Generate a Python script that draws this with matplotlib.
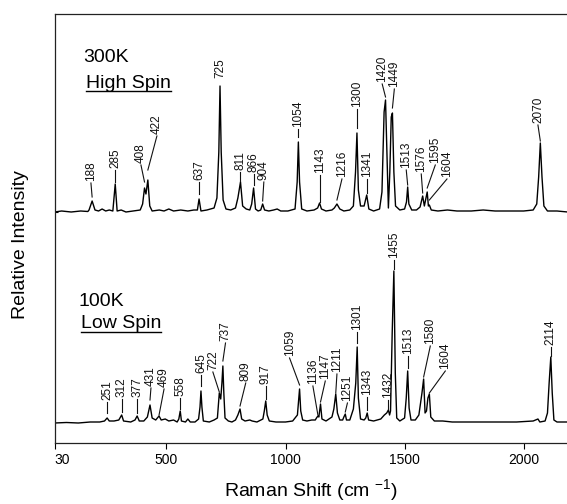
import numpy as np
import matplotlib
matplotlib.use("Agg")
import matplotlib.pyplot as plt
from matplotlib.lines import Line2D

plt.rcParams['font.family'] = ['Liberation Sans', 'DejaVu Sans']
plt.rcParams['mathtext.default'] = 'regular'

# 300K high spin spectrum (Raman shift cm-1, relative intensity)
hs_shift = [30, 60, 100, 140, 170, 175, 188, 200, 215, 230, 245, 260, 275, 285, 293,
            310, 330, 360, 390, 400, 408, 414, 422, 430, 440, 470, 490, 510, 530, 560,
            590, 615, 630, 637, 645, 670, 700, 712, 720, 725, 730, 738, 750, 770, 790,
            800, 811, 820, 835, 850, 858, 866, 874, 885, 896, 904, 912, 930, 950, 965,
            980, 1010, 1040, 1049, 1054, 1059, 1068, 1090, 1120, 1135, 1143, 1151, 1170, 1195, 1205,
            1216, 1228, 1245, 1270, 1285, 1294, 1300, 1306, 1315, 1330, 1341, 1350, 1370, 1395, 1405,
            1414, 1420, 1426, 1432, 1438, 1444, 1449, 1455, 1462, 1480, 1500, 1508, 1513, 1518, 1530,
            1550, 1565, 1570, 1576, 1583, 1590, 1595, 1600, 1604, 1612, 1640, 1680, 1720, 1780, 1830,
            1880, 1940, 2000, 2040, 2055, 2063, 2070, 2077, 2085, 2100, 2140, 2185]
hs_intensity = [0, 1, 0, 1, 0.5, 2, 11, 2, 1, 3, 1, 2, 1, 28, 1,
                2, 0, 1, 2, 8, 24, 18, 32, 6, 1, 2, 1, 3, 1, 2,
                1, 2, 2, 13, 1, 2, 4, 14, 60, 126, 60, 12, 3, 2, 4,
                14, 30, 6, 3, 2, 8, 24, 3, 1, 2, 8, 2, 1, 2, 3,
                1, 1, 3, 30, 70, 30, 3, 1, 2, 4, 9, 3, 1, 2, 4,
                8, 3, 1, 2, 6, 40, 79, 22, 6, 6, 17, 3, 1, 3, 20,
                100, 112, 60, 4, 40, 95, 99, 40, 6, 2, 3, 10, 25, 8, 2,
                2, 5, 10, 16, 6, 14, 20, 6, 7, 2, 1, 2, 1, 1, 2,
                1, 1, 1, 2, 8, 35, 69, 35, 6, 1, 1, 0]

# 100K low spin spectrum
ls_shift = [30, 80, 130, 180, 220, 240, 251, 260, 280, 300, 312, 320, 350, 368, 377,
            386, 405, 420, 431, 440, 455, 462, 469, 478, 495, 510, 530, 545, 552, 558,
            563, 580, 590, 600, 620, 635, 641, 645, 649, 655, 680, 700, 714, 719, 722,
            728, 733, 737, 741, 746, 760, 775, 790, 800, 809, 816, 830, 850, 860, 880,
            905, 911, 917, 923, 932, 960, 1000, 1030, 1050, 1055, 1059, 1064, 1072, 1090, 1110,
            1125, 1130, 1136, 1140, 1147, 1153, 1170, 1195, 1203, 1211, 1218, 1228, 1240, 1245, 1251,
            1256, 1270, 1285, 1295, 1301, 1306, 1315, 1330, 1337, 1343, 1349, 1370, 1400, 1415, 1425,
            1432, 1437, 1441, 1448, 1455, 1461, 1467, 1480, 1500, 1507, 1513, 1519, 1527, 1545, 1560,
            1573, 1580, 1586, 1592, 1598, 1604, 1610, 1625, 1660, 1700, 1760, 1820, 1900, 1970, 2040,
            2060, 2068, 2090, 2100, 2107, 2114, 2120, 2127, 2140, 2185]
ls_intensity = [0, 0.5, 0, 1, 1, 2, 5, 2, 2, 3, 8, 2, 1, 3, 7,
                2, 2, 6, 18, 5, 3, 5, 7, 3, 4, 2, 3, 1, 4, 12,
                2, 1, 4, 1, 1, 4, 16, 32, 16, 2, 1, 3, 5, 20, 30,
                24, 40, 57, 30, 5, 2, 1, 3, 8, 14, 4, 2, 3, 2, 1,
                4, 12, 22, 8, 2, 1, 1, 2, 8, 22, 34, 12, 3, 2, 3,
                3, 5, 7, 6, 19, 4, 2, 6, 14, 29, 10, 3, 3, 6, 9,
                3, 3, 14, 40, 76, 25, 4, 3, 5, 10, 3, 2, 4, 8, 10,
                13, 8, 12, 90, 152, 50, 5, 2, 5, 25, 52, 15, 3, 3, 8,
                30, 44, 10, 12, 25, 29, 6, 2, 2, 1, 1, 1, 1, 1, 2,
                4, 1, 2, 10, 40, 66, 30, 3, 1, 1]

# peak labels: (value, label x shift in cm-1, gap peak->text, gap peak->leader end)
hs_labels = [(188, -5, 20, 4), (285, 0, 16, 2), (408, -15, 25, 6), (422, 38, 46, 10),
             (637, 0, 19, 5), (725, 0, 8, None), (811, 0, 12, 1), (866, 0, 16, 3),
             (904, 5, 24, 3), (1054, 0, 15, 5), (1143, 0, 30, 1), (1216, 21, 27, 4),
             (1300, 0, 26, 5), (1341, 0, 18, 2), (1420, -14, 18, 3), (1449, 8, 26, 5),
             (1513, -6, 19, 2), (1576, -6, 24, 3), (1595, 34, 29, 4), (1604, 74, 28, 5),
             (2070, -10, 20, 2)]
ls_labels = [(251, 0, 18, 5), (312, 0, 18, 3), (377, 0, 19, 3), (431, 4, 19, 5),
             (469, 21, 29, 1), (558, 0, 15, 2), (645, 0, 18, 5), (722, -27, 23, 1),
             (737, 11, 25, 5), (809, 24, 28, 3), (917, 0, 17, 2), (1059, -42, 33, 4),
             (1136, -21, 32, 1), (1147, 20, 25, 2), (1211, 5, 22, 1), (1251, 9, 13, 2),
             (1301, 0, 17, 4), (1343, 0, 18, 3), (1432, 0, 12, 1), (1455, 0, 13, 2),
             (1513, 0, 17, 3), (1580, 28, 35, 2), (1604, 67, 25, 1), (2114, 0, 12, 1)]

hs_offset = 231
ls_offset = 20

W, H = 567, 504
fig = plt.figure(figsize=(W / 100, H / 100), dpi=100)
ax = fig.add_axes([54.5 / W, 1 - 443 / H, 1 - 54.5 / W, (443 - 14) / H])

ax.plot(hs_shift, np.array(hs_intensity) + hs_offset, color='black', lw=1.0)
ax.plot(ls_shift, np.array(ls_intensity) + ls_offset, color='black', lw=1.0)


def label_peaks(labels, xs, ys, offset):
    for val, dx, gap, end in labels:
        top = np.interp(val, xs, ys) + offset
        ty = top + gap
        ax.text(val + dx, ty, str(val), rotation=90, ha='center', va='bottom',
                fontsize=8.5, color='#111111')
        if end is not None:
            ax.plot([val + dx, val], [ty - 2, top + end], color='#111111', lw=0.8)


label_peaks(hs_labels, hs_shift, hs_intensity, hs_offset)
label_peaks(ls_labels, ls_shift, ls_intensity, ls_offset)

ax.set_xlim(30, 2182)
ax.set_ylim(0, 429)
ax.set_xticks([30, 500, 1000, 1500, 2000])
ax.set_xticklabels(['30', '500', '1000', '1500', '2000'], fontsize=10)
ax.get_xticklabels()[0].set_horizontalalignment('left')
ax.set_yticks([hs_offset])
ax.set_yticklabels([])
ax.tick_params(axis='y', direction='in', length=2, width=0.8)
ax.tick_params(axis='x', direction='out', length=4, width=0.8, pad=3)
ax.spines['right'].set_visible(False)
for s in ['left', 'bottom', 'top']:
    ax.spines[s].set_linewidth(0.9)
    ax.spines[s].set_color('#222222')

fig.text(21 / W, 1 - 245 / H, 'Relative Intensity', rotation=90, ha='center',
         va='center', fontsize=14)
fig.text(311 / W, 1 - 496 / H, 'Raman Shift (cm $^{-1}$)', ha='center',
         va='baseline', fontsize=14)


def titled(x, y1, t1, y2, t2, uy):
    fig.text(x / W, 1 - y1 / H, t1, fontsize=14, va='baseline')
    t = fig.text((x + 3) / W, 1 - y2 / H, t2, fontsize=14, va='baseline')
    fig.canvas.draw()
    bb = t.get_window_extent()
    fig.add_artist(Line2D([bb.x0 / W, bb.x1 / W], [1 - uy / H, 1 - uy / H],
                          transform=fig.transFigure, color='black', lw=1.0))


titled(83, 62, '300K', 88, 'High Spin', 90.5)
titled(78, 306, '100K', 328, 'Low Spin', 332)

fig.savefig('out.png', dpi=100)
